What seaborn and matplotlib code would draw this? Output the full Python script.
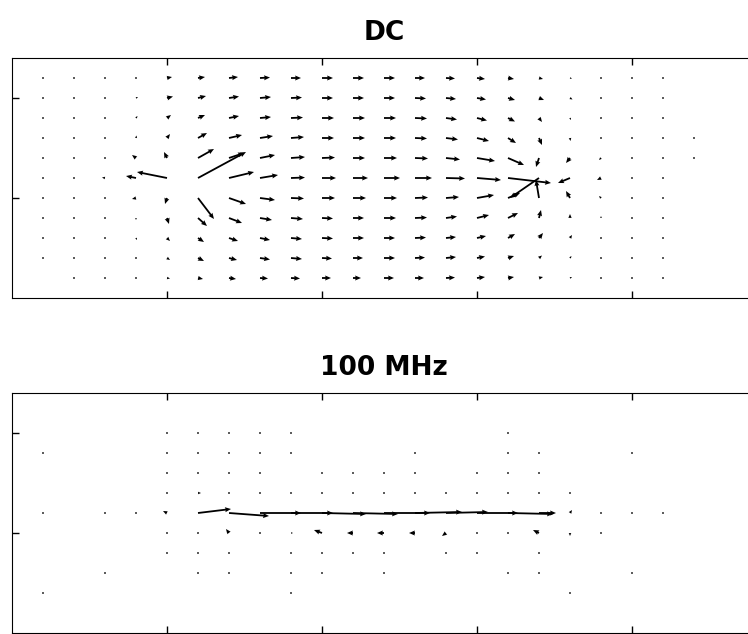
import numpy as np
import matplotlib
matplotlib.use("Agg")
import matplotlib.pyplot as plt
import seaborn as sns

_ = np.nan

# Sample grid: 23 columns, 11 rows (rows listed from top to bottom)
x_grid = [0.2, 0.4, 0.6, 0.8, 1.0, 1.2, 1.4, 1.6, 1.8, 2.0, 2.2, 2.4,
          2.6, 2.8, 3.0, 3.2, 3.4, 3.6, 3.8, 4.0, 4.2, 4.4, 4.6]
y_grid = [2.2, 2.0, 1.8, 1.6, 1.4, 1.2, 1.0, 0.8, 0.6, 0.4, 0.2]

# DC current density (horizontal / vertical components)
dc_u = [
    [0, 0, 0, 1, 5, 7, 9, 10, 10, 11, 11, 11, 10, 9, 8, 6, 4, 2, 1, 0, 0, _, _],
    [0, 0, 0, 2, 6, 8, 10, 11, 11, 11, 11, 11, 11, 10, 9, 7, 5, 2.5, 1, 0.5, 0, _, _],
    [0, 0, 0, 1.5, 4, 7, 10, 11, 12, 12, 12, 12, 12, 11, 10, 7, 3, 1, 0.5, 0, 0, _, _],
    [0, 0, 0, 0.5, 3, 9, 13, 13, 13, 12, 12, 12, 12, 12, 12, 8, 3, 0.5, 0, 0, 0, 0, _],
    [0, 0, 0, -4, -3, 16, 15, 15, 14, 13, 12, 13, 13, 14, 18, 16, -3, -4, -2, 0, 0, 0, _],
    [0, 0, -3, -10, -30, 48, 25, 18, 14, 14, 15, 16, 17, 19, 24, 43, -29, -12, -4, 0, 0, _, _],
    [0, 0, 0, -4, -2, 16, 17, 15, 13, 13, 13, 13, 13, 13, 17, 12, -3, -4, -2, 0, 0, _, _],
    [0, 0, 0, 0, 2, 9, 13, 12, 12, 11, 11, 12, 12, 11, 12, 10, 2, 0, 0, 0, 0, _, _],
    [0, 0, 0, 1, 3, 6, 9, 10, 11, 11, 11, 11, 11, 10, 9, 7, 4, 2, 0.5, 0, 0, _, _],
    [0, 0, 0, 1, 3, 6, 8, 10, 11, 10, 10, 11, 10, 10, 8, 6, 3, 1.5, 0.5, 0, 0, _, _],
    [_, 0, 0, 0, 3, 5, 7, 8, 9, 9, 8, 10, 9, 9, 8, 6, 4, 2, 0, 0, 0, _, _],
]
dc_v = [
    [0, 0, 0, 0, 1, 1, 1, 0.5, 0, 0, 0, 0, 0, -0.5, -1, -1, -1, -0.5, 0, 0, 0, _, _],
    [0, 0, 0, 1, 1.5, 2, 1.5, 1, 0.5, 0, 0, 0, -0.5, -1, -1.5, -2, -2, -1.5, -0.5, 0, 0, _, _],
    [0, 0, 0, 2, 3, 3, 2, 1, 0.5, 0, 0, 0, -0.5, -1.5, -2.5, -3.5, -4, -2, -0.5, 0, 0, _, _],
    [0, 0, 1, 2.5, 4, 5, 3, 2, 1, 0, 0, 0, -0.5, -1.5, -3, -5, -7, -3, -1, 0, 0, 0, _],
    [0, 0, 0, 3, 6, 9, 5, 3, 1, 0.5, 0, 0, -0.5, -1.5, -3, -7, -9, -5, -2, 0, 0, 0, _],
    [0, 0, 0.5, 2, 6, 26, 6, 3, 0.5, 0, 0, 0, 0, -0.5, -2, -5, -20, -5, -2, 0, 0, _, _],
    [0, 0, 0, -1, -6, -21, -6, -2, -0.5, 0, 0, 0, 0.5, 1, 3, 5, 18, 7, 2, 0, 0, _, _],
    [0, 0, 0, -2, -6, -8, -5, -2, -1, -0.5, 0, 0, 0.5, 1.5, 3, 5, 8, 4, 2, 0, 0, _, _],
    [0, 0, 0, -2, -3, -4, -3, -2, -1, -0.5, 0, 0, 0.5, 1, 2, 4, 5, 3, 1, 0, 0, _, _],
    [0, 0, 0, -1.5, -2, -3, -2, -1.5, -1, -0.5, 0, 0, 0.5, 1, 1.5, 2, 2.5, 2, 0.5, 0, 0, _, _],
    [_, 0, 0, 0, -0.5, -1, -1, -0.5, -0.5, 0, 0, 0, 0, 0.5, 1, 1, 1, 1, 0, 0, 0, _, _],
]

# 100 MHz current density (current crowds into a single row)
rf_u = [
    [_, _, _, _, _, _, _, _, _, _, _, _, _, _, _, _, _, _, _, _, _, _, _],
    [_, _, _, _, 0, 0, 0, 0, 0, _, _, _, _, _, _, 0, _, _, _, _, _, _, _],
    [0, _, _, _, 0, 0, 0, 0, 0, _, _, _, 0, _, _, 0, 0, _, _, 0, _, _, _],
    [_, _, _, _, 0, 0, 0, 0, _, 0, 0, 0, 0, _, 0, 0, 0, _, _, _, _, _, _],
    [_, _, _, _, 0, 3, 0, 0, 0, 0, 0, 0, 0, 0, 0, 0, 0, 0, _, _, _, _, _],
    [0, _, 0, 0, -4, 33, 40, 41, 42, 44, 45, 46, 47, 42, 41, 45, 17, 2, 0, 0, 0, _, _],
    [_, _, _, _, 0, 1, -3, 0, 2, -8, -6, -7, -6, -4, 0, 0, -6, 0, 0, _, _, _, _],
    [_, _, _, _, 0, 0, 0, _, 0, 0, 0, 0, _, 0, 0, _, 0, _, _, _, _, _, _],
    [_, _, 0, _, _, 0, 0, _, 0, 0, _, 0, _, _, _, 0, 0, _, _, 0, _, _, _],
    [0, _, _, _, _, _, _, _, 0, _, _, _, _, _, _, _, _, 0, _, _, _, _, _],
    [_, _, _, _, _, _, _, _, _, _, _, _, _, _, _, _, _, _, _, _, _, _, _],
]
rf_v = [
    [_, _, _, _, _, _, _, _, _, _, _, _, _, _, _, _, _, _, _, _, _, _, _],
    [_, _, _, _, 0, 0, 0, 0, 0, _, _, _, _, _, _, 0, _, _, _, _, _, _, _],
    [0, _, _, _, 0, 0, 0, 0, 0, _, _, _, 0, _, _, 0, 0, _, _, 0, _, _, _],
    [_, _, _, _, 0, 0, 0, 0, _, 0, 0, 0, 0, _, 0, 0, 0, _, _, _, _, _, _],
    [_, _, _, _, 0, 0, 0, 0, 0, 0, 0, 0, 0, 0, 0, 0, 0, 0, _, _, _, _, _],
    [0, _, 0, 0, 2, 4, -3, 0, 0, -1, -1, 0, 1, 1, 0, -1, 0, 3, 0, 0, 0, _, _],
    [_, _, _, _, 0, -1, 4, 0, 0, 3, 0, 0, 0, -3, 0, 0, 3, -3, 0, _, _, _, _],
    [_, _, _, _, 0, 0, 0, _, 0, 0, 0, 0, _, 0, 0, _, 0, _, _, _, _, _, _],
    [_, _, 0, _, _, 0, 0, _, 0, 0, _, 0, _, _, _, 0, 0, _, _, 0, _, _, _],
    [0, _, _, _, _, _, _, _, 0, _, _, _, _, _, _, _, _, 0, _, _, _, _, _],
    [_, _, _, _, _, _, _, _, _, _, _, _, _, _, _, _, _, _, _, _, _, _, _],
]

panels = [
    ("DC", dc_u, dc_v),
    ("100 MHz", rf_u, rf_v),
]

sns.set_theme(style="ticks", rc={
    "axes.edgecolor": "black",
    "xtick.color": "black",
    "ytick.color": "black",
    "text.color": "black",
    "axes.titlecolor": "black",
    "axes.linewidth": 0.8,
})
plt.rcParams["font.family"] = ["DejaVu Sans"]

W, H = 748, 634
fig = plt.figure(figsize=(W / 100, H / 100), dpi=100)
fig.patch.set_facecolor("white")

# axes boxes in pixel coordinates: left, bottom edge (from top), width, height
boxes = [(12, 298, 744, 240), (12, 633, 744, 240)]

X, Y = np.meshgrid(x_grid, y_grid)

for (title, u, v), (left, bottom, w, h) in zip(panels, boxes):
    ax = fig.add_axes([left / W, 1 - bottom / H, w / W, h / H])
    ax.set_facecolor("white")
    ax.quiver(X, Y, np.array(u, dtype=float), np.array(v, dtype=float),
              angles="uv", pivot="tail", units="dots",
              scale_units="dots", scale=1,
              width=1.8, headwidth=2.8, headlength=3.3, headaxislength=3.0,
              minlength=1.1, color="black")
    ax.set_xlim(0, 4.8)
    ax.set_ylim(0, 2.4)
    ax.set_xticks([1, 2, 3, 4])
    ax.set_yticks([1, 2])
    ax.tick_params(direction="in", length=5, width=1, top=True, right=True,
                   labelbottom=False, labelleft=False)
    for s in ax.spines.values():
        s.set_visible(True)
        s.set_color("black")
    ax.set_title(title, fontsize=19, fontweight="bold", pad=13, color="black")

fig.savefig("out.png", dpi=100, facecolor="white")
